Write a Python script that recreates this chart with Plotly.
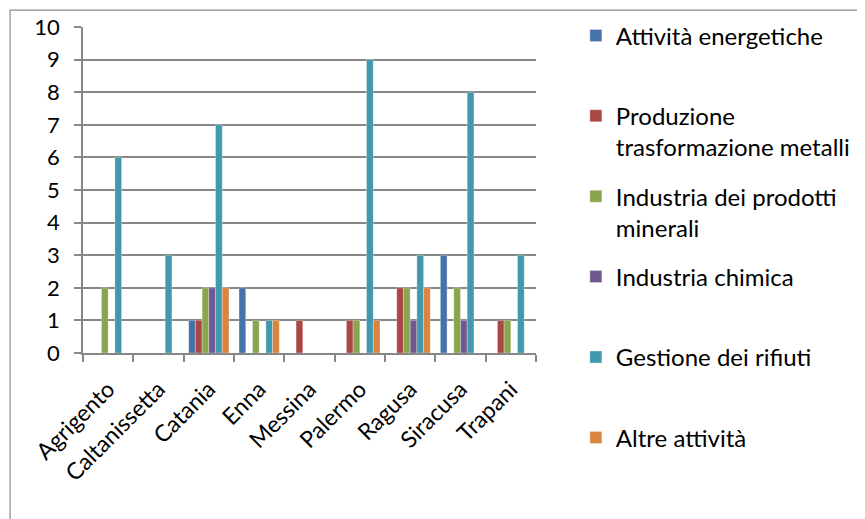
import plotly.graph_objects as go

province = ['Agrigento', 'Caltanissetta', 'Catania', 'Enna', 'Messina',
            'Palermo', 'Ragusa', 'Siracusa', 'Trapani']

attivita_energetiche = [0, 0, 1, 2, 0, 0, 0, 3, 0]
produzione_metalli = [0, 0, 1, 0, 1, 1, 2, 0, 1]
prodotti_minerali = [2, 0, 2, 1, 0, 1, 2, 2, 1]
industria_chimica = [0, 0, 2, 0, 0, 0, 1, 1, 0]
gestione_rifiuti = [6, 3, 7, 1, 0, 9, 3, 8, 3]
altre_attivita = [0, 0, 2, 1, 0, 1, 2, 0, 0]

series = [
    ('Attività energetiche<br> ', attivita_energetiche, '#4572A7'),
    ('Produzione<br>trasformazione metalli', produzione_metalli, '#AA4643'),
    ('Industria dei prodotti<br>minerali', prodotti_minerali, '#89A54E'),
    ('Industria chimica<br> ', industria_chimica, '#71588F'),
    ('Gestione dei rifiuti<br> ', gestione_rifiuti, '#4198AF'),
    ('Altre attività<br> ', altre_attivita, '#DB843D'),
]

fig = go.Figure()
for i, (name, vals, col) in enumerate(series):
    fig.add_trace(go.Bar(x=province, y=vals, name=name, marker_color=col,
                         marker_line=dict(color='rgba(255,255,255,0.6)', width=0.5),
                         legendgroup=str(i)))

grid = '#878787'
# the page adds an 8px body margin, so margins are 8px smaller here
fig.update_layout(
    width=865, height=519,
    margin=dict(l=75, r=337, t=19, b=174, autoexpand=False),
    paper_bgcolor='white', plot_bgcolor='white',
    font=dict(family='Lato, Carlito, sans-serif', size=21, color='black'),
    barmode='group', bargap=0.2, bargroupgap=0,
    showlegend=True,
    legend=dict(x=1.088, y=1.042, xanchor='left', yanchor='top',
                valign='top', tracegroupgap=15, maxheight=515,
                bgcolor='rgba(0,0,0,0)', font=dict(size=24)),
    shapes=[dict(type='rect', xref='paper', yref='paper',
                 x0=-0.161, y0=-1.0, x1=2.0, y1=1.052,
                 line=dict(color='#8a8a8a', width=1.2), layer='below')],
)
fig.update_yaxes(range=[0, 10], dtick=1, showgrid=True, gridcolor=grid, gridwidth=1.5,
                 showline=True, linecolor=grid, linewidth=1.5,
                 ticks='outside', ticklen=7, tickcolor=grid, tickwidth=1.5,
                 ticklabelstandoff=10, tickfont=dict(size=22),
                 zeroline=False, automargin=False)
fig.update_xaxes(showline=True, linecolor=grid, linewidth=1.5,
                 ticks='outside', tickson='boundaries', ticklen=7,
                 tickcolor=grid, tickwidth=1.5, tickangle=-45, showgrid=False,
                 ticklabelstandoff=12, tickfont=dict(size=23),
                 automargin=False)

fig.write_html('out.html')
